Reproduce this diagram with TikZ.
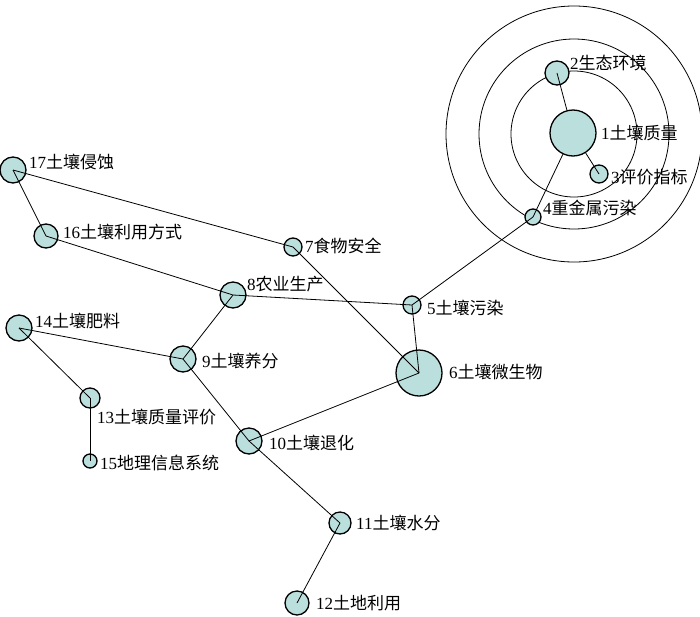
\documentclass[tikz,border=0pt]{standalone}
\usepackage{fontspec}
\setmainfont{Liberation Serif}
\newfontfamily\cjk{Noto Sans CJK SC}
\definecolor{nodefill}{RGB}{186,223,220}
\newcommand{\lbl}[2]{#1{\cjk #2}}
\begin{document}
\begin{tikzpicture}[x=1pt,y=-1pt,
  vert/.style={circle,draw=black,line width=1.3pt,fill=nodefill,inner sep=0pt,minimum size=#1},
  lab/.style={anchor=west,inner sep=0pt,font=\fontsize{17}{17}\selectfont},
  edge/.style={draw=black,line width=0.8pt},
  ring/.style={draw=black,line width=0.8pt}]
\useasboundingbox[fill=white] (0,0) rectangle (700,616);
% concentric rings
\coordinate (ctr) at (574,134);
\draw[ring] (ctr) circle[radius=63];
\draw[ring] (ctr) circle[radius=95];
\draw[ring] (ctr) circle[radius=128];
% nodes
\node[vert=46pt] (n1) at (573,133) {};
\node[vert=24pt] (n2) at (557,73) {};
\node[vert=18pt] (n3) at (599,174) {};
\node[vert=16pt] (n4) at (533,217) {};
\node[vert=18pt] (n5) at (412,305) {};
\node[vert=46pt] (n6) at (419,373) {};
\node[vert=18pt] (n7) at (293,247) {};
\node[vert=26pt] (n8) at (233,295) {};
\node[vert=26pt] (n9) at (183,359) {};
\node[vert=26pt] (n10) at (249,441) {};
\node[vert=22pt] (n11) at (340,523) {};
\node[vert=24pt] (n12) at (297,603) {};
\node[vert=20pt] (n13) at (90,398) {};
\node[vert=26pt] (n14) at (19,328) {};
\node[vert=14pt] (n15) at (90,461) {};
\node[vert=24pt] (n16) at (46,236) {};
\node[vert=26pt] (n17) at (13,170) {};
% edges
\draw[edge] (n1) -- (n2.center);
\draw[edge] (n1) -- (n3.center);
\draw[edge] (n1) -- (n4.center);
\draw[edge] (n4.center) -- (n5.center);
\draw[edge] (n5.center) -- (n8.center);
\draw[edge] (n5.center) -- (n6.center);
\draw[edge] (n6.center) -- (n7.center);
\draw[edge] (n7.center) -- (n17.center);
\draw[edge] (n17.center) -- (n16.center);
\draw[edge] (n16.center) -- (n8.center);
\draw[edge] (n8.center) -- (n9.center);
\draw[edge] (n9.center) -- (n14.center);
\draw[edge] (n14.center) -- (n13.center);
\draw[edge] (n13.center) -- (n15.center);
\draw[edge] (n9.center) -- (n10.center);
\draw[edge] (n10.center) -- (n6.center);
\draw[edge] (n10.center) -- (n11.center);
\draw[edge] (n11.center) -- (n12.center);
% labels
\node[lab] (l1) at (601,133) {\lbl{1}{土壤质量}};
\node[lab] (l2) at (570,63) {\lbl{2}{生态环境}};
\node[lab] (l3) at (611,177) {\lbl{3}{评价指标}};
\node[lab] (l4) at (543,208) {\lbl{4}{重金属污染}};
\node[lab] (l5) at (427,308) {\lbl{5}{土壤污染}};
\node[lab] (l6) at (449,372) {\lbl{6}{土壤微生物}};
\node[lab] (l7) at (305,246) {\lbl{7}{食物安全}};
\node[lab] (l8) at (247,284) {\lbl{8}{农业生产}};
\node[lab] (l9) at (202,361) {\lbl{9}{土壤养分}};
\node[lab] (l10) at (269,443) {\lbl{10}{土壤退化}};
\node[lab] (l11) at (356,523) {\lbl{11}{土壤水分}};
\node[lab] (l12) at (316,603) {\lbl{12}{土地利用}};
\node[lab] (l13) at (97,417) {\lbl{13}{土壤质量评价}};
\node[lab] (l14) at (35,321) {\lbl{14}{土壤肥料}};
\node[lab] (l15) at (100,463) {\lbl{15}{地理信息系统}};
\node[lab] (l16) at (63,232) {\lbl{16}{土壤利用方式}};
\node[lab] (l17) at (29,162) {\lbl{17}{土壤侵蚀}};
\end{tikzpicture}
\end{document}
